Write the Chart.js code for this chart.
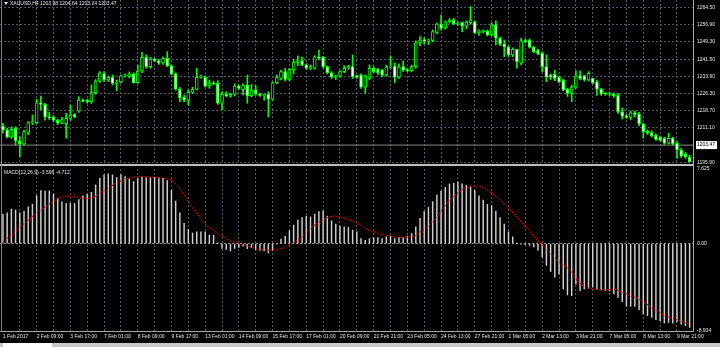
<!DOCTYPE html>
<html><head><meta charset="utf-8">
<script src="https://cdn.jsdelivr.net/npm/chart.js@4.4.0/dist/chart.umd.min.js"></script>
<style>
html,body{margin:0;padding:0;background:#000;width:720px;height:347px;overflow:hidden;}
#wrap{position:relative;width:720px;height:347px;background:#000;}
canvas{position:absolute;left:0;}
#cMain{top:0;}
#cMacd{top:166px;}
.txt{position:absolute;font-family:'Liberation Sans',Arial,sans-serif;font-size:5px;color:#e4e4e4;white-space:nowrap;line-height:5px;}
.ln{position:absolute;background:#a8a8a8;}
</style></head>
<body><div id="wrap">
<canvas id="cMain" width="720" height="164" style="width:720px;height:164px"></canvas>
<canvas id="cMacd" width="720" height="177" style="width:720px;height:177px"></canvas>
<div class="ln" style="left:0;top:164px;width:694px;height:2px;background:#bdbdbd"></div>
<div class="ln" style="left:693px;top:0;width:1px;height:332px;"></div>
<div class="ln" style="left:0;top:331px;width:694px;height:1px;"></div>
<div class="ln" style="left:1px;top:0;width:1px;height:332px;background:#808080"></div>
<div style="position:absolute;left:0;top:343px;width:720px;height:4px;background:#c8c8c8"></div>
<div style="position:absolute;left:3px;top:343px;width:49px;height:4px;background:#ffffff"></div>
<div style="position:absolute;left:4px;top:2px;width:0;height:0;border-left:2px solid transparent;border-right:2px solid transparent;border-top:3px solid #e4e4e4"></div>
<div class="txt" id="title" style="left:10px;top:1px"></div>
<div class="txt" id="macdTitle" style="left:4px;top:170px"></div>
</div>
<script>
// ---------- DATA ----------
const symbolName = 'XAUUSD,H4';
const lastBar = [1203.98, 1204.64, 1203.24, 1203.47];
const bidPrice = 1203.47;
const macdHeader = ['MACD(12,26,9)', -3.596, -4.712];

const timeLabels = ['1 Feb 2017','2 Feb 09:00','3 Feb 17:00','7 Feb 01:00','8 Feb 09:00','9 Feb 17:00',
 '13 Feb 01:00','14 Feb 09:00','15 Feb 17:00','17 Feb 01:00','20 Feb 09:00','21 Feb 21:00','23 Feb 05:00',
 '24 Feb 13:00','27 Feb 21:00','1 Mar 05:00','2 Mar 13:00','3 Mar 21:00','7 Mar 05:00','8 Mar 13:00','9 Mar 21:00'];

const priceTicks = [1264.50, 1256.90, 1249.30, 1241.50, 1233.90, 1226.30, 1218.70, 1211.10, 1203.47, 1195.90];
const macdTickValues = [7.625, 0, -8.934];
const macdTickLabels = ['7.625', '0.00', '-8.934'];

const openP = [1211.9,1210.2,1207.0,1210.9,1205.4,1204.0,1209.1,1213.4,1213.4,1222.2,
1221.5,1216.0,1216.0,1214.5,1213.2,1213.0,1215.3,1217.0,1218.5,1223.4,
1223.4,1222.6,1226.7,1231.8,1235.0,1232.3,1233.5,1230.8,1231.5,1234.1,
1233.8,1235.0,1231.1,1236.3,1242.3,1238.2,1241.6,1240.8,1239.9,1241.9,
1238.6,1235.0,1228.2,1224.6,1223.4,1226.8,1228.2,1233.5,1233.5,1229.6,
1231.1,1230.8,1222.0,1225.9,1225.2,1225.9,1229.6,1228.0,1230.0,1225.2,
1227.9,1226.1,1225.5,1225.9,1223.8,1231.1,1233.0,1236.0,1232.6,1236.7,
1240.1,1240.8,1239.0,1237.5,1237.5,1242.6,1242.3,1238.2,1235.5,1233.5,
1234.0,1236.0,1237.5,1238.2,1234.3,1234.5,1229.1,1233.0,1237.5,1237.0,
1236.7,1234.5,1238.0,1238.5,1233.5,1238.2,1236.7,1236.4,1238.2,1248.8,
1250.0,1249.5,1249.8,1253.4,1257.1,1255.2,1258.1,1258.9,1257.1,1257.7,
1256.2,1257.7,1258.1,1253.2,1253.7,1254.0,1252.2,1256.7,1250.8,1248.2,
1247.0,1243.4,1245.9,1239.7,1249.7,1250.0,1246.8,1245.6,1244.1,1238.2,
1234.5,1234.8,1233.5,1232.3,1228.2,1226.4,1229.1,1234.1,1234.1,1232.3,
1233.0,1231.5,1228.2,1226.1,1226.0,1226.1,1225.5,1218.2,1216.3,1215.8,
1217.8,1217.2,1212.8,1209.7,1209.0,1207.9,1206.9,1206.5,1204.3,1206.5,
1204.3,1201.3,1199.6,1198.0];
const highP = [1213.1,1211.0,1211.6,1211.6,1207.2,1210.0,1213.8,1216.8,1223.8,1225.2,
1222.0,1218.0,1216.5,1215.0,1215.8,1217.5,1221.2,1217.5,1224.9,1224.0,
1223.8,1230.1,1232.5,1236.0,1236.0,1234.1,1234.5,1232.3,1234.5,1235.0,
1235.9,1235.5,1238.9,1244.6,1243.4,1242.3,1242.0,1241.5,1242.6,1244.8,
1239.0,1235.5,1229.1,1225.6,1227.9,1229.1,1237.5,1234.5,1234.1,1232.3,
1231.8,1232.0,1227.1,1227.1,1226.5,1230.6,1230.1,1230.6,1234.5,1230.3,
1229.8,1226.5,1226.3,1227.1,1231.5,1234.5,1236.7,1237.5,1237.5,1241.5,
1243.0,1242.5,1239.5,1239.0,1243.0,1245.6,1242.8,1238.6,1236.0,1234.5,
1236.5,1238.6,1238.9,1243.4,1234.5,1235.0,1234.5,1239.0,1238.2,1237.5,
1237.0,1238.9,1243.0,1239.9,1239.5,1240.8,1237.5,1238.9,1249.6,1251.5,
1250.9,1250.5,1254.5,1257.5,1261.1,1258.5,1259.5,1259.6,1258.1,1258.1,
1258.5,1264.8,1258.5,1254.5,1254.5,1254.5,1257.7,1258.5,1251.3,1250.0,
1247.5,1246.5,1246.0,1250.9,1250.5,1250.5,1247.3,1246.0,1244.8,1243.4,
1235.0,1236.7,1234.0,1232.7,1228.6,1230.1,1236.4,1236.4,1234.5,1236.0,
1233.0,1232.3,1228.6,1226.8,1227.0,1226.6,1226.4,1219.9,1217.0,1218.5,
1218.5,1218.0,1213.1,1210.2,1209.8,1208.5,1207.5,1207.0,1208.7,1207.0,
1205.0,1202.0,1200.2,1199.0];
const lowP = [1208.7,1206.6,1206.5,1203.5,1198.3,1203.5,1208.0,1212.5,1213.0,1219.0,
1214.5,1214.8,1213.8,1212.6,1212.8,1206.5,1214.5,1215.5,1218.0,1222.5,
1222.0,1221.9,1226.0,1231.2,1231.6,1231.6,1230.1,1227.5,1231.0,1233.6,
1233.2,1230.8,1230.8,1235.5,1237.5,1237.5,1240.3,1239.2,1239.2,1238.2,
1234.5,1227.8,1222.7,1222.7,1221.2,1226.3,1227.9,1233.0,1229.1,1228.6,
1230.1,1221.5,1219.0,1224.9,1224.6,1225.2,1228.0,1225.7,1222.0,1224.9,
1225.5,1225.0,1223.4,1216.0,1223.4,1230.6,1232.3,1231.8,1231.8,1235.0,
1238.6,1238.5,1237.0,1236.9,1237.0,1241.2,1237.5,1235.0,1233.0,1232.5,
1233.5,1235.5,1237.0,1233.0,1233.0,1228.6,1226.4,1232.3,1235.5,1234.5,
1233.8,1234.0,1237.5,1231.1,1233.0,1236.0,1235.9,1235.9,1237.5,1247.5,
1248.2,1248.0,1249.2,1252.8,1254.4,1254.8,1257.5,1256.7,1256.5,1253.7,
1255.0,1257.0,1252.8,1252.0,1253.2,1251.8,1251.8,1247.8,1247.5,1242.6,
1242.8,1242.6,1237.5,1239.0,1248.8,1246.4,1244.3,1243.4,1236.0,1231.5,
1232.5,1232.0,1231.0,1227.5,1225.0,1222.7,1228.6,1232.3,1231.8,1231.8,
1230.6,1225.5,1225.5,1225.5,1225.3,1224.6,1217.5,1215.0,1215.3,1214.8,
1216.0,1212.0,1206.5,1208.2,1207.0,1205.5,1205.2,1203.8,1204.0,1203.5,
1197.6,1198.0,1197.6,1196.0];
const closeP = [1210.2,1207.0,1210.5,1205.4,1204.0,1209.4,1213.4,1213.9,1222.2,1221.5,
1216.0,1215.5,1214.5,1213.2,1214.8,1215.3,1216.5,1216.0,1223.4,1223.0,
1222.6,1226.7,1231.8,1235.5,1232.3,1233.5,1230.8,1231.5,1234.1,1234.5,
1235.0,1231.1,1236.3,1242.3,1238.2,1241.6,1240.8,1239.7,1241.9,1238.6,
1235.0,1228.2,1224.2,1223.4,1226.8,1228.2,1233.5,1234.0,1229.6,1231.1,
1230.6,1222.0,1225.9,1225.2,1225.9,1229.6,1228.6,1230.0,1225.2,1227.9,
1226.1,1225.5,1225.9,1223.8,1231.1,1233.5,1236.0,1232.6,1237.0,1240.1,
1240.8,1239.0,1237.5,1238.2,1242.6,1242.0,1238.2,1235.5,1233.5,1234.1,
1236.0,1237.5,1238.2,1233.8,1233.4,1229.1,1234.1,1237.5,1236.0,1235.5,
1234.5,1238.0,1238.5,1233.5,1238.0,1236.7,1236.4,1238.2,1248.8,1250.0,
1249.5,1249.8,1253.7,1257.1,1255.2,1258.1,1258.9,1257.1,1257.5,1256.2,
1258.0,1258.9,1253.2,1254.0,1254.0,1252.2,1256.7,1250.8,1248.2,1247.0,
1243.4,1245.9,1240.4,1249.7,1249.3,1246.8,1244.8,1243.8,1238.2,1233.5,
1233.5,1233.0,1231.5,1227.9,1226.4,1229.3,1234.1,1233.0,1232.3,1235.2,
1231.1,1228.2,1226.1,1226.0,1226.4,1225.3,1218.2,1216.3,1215.8,1217.8,
1216.9,1212.8,1209.4,1208.7,1207.5,1206.0,1205.7,1204.3,1206.5,1204.0,
1201.3,1198.6,1198.2,1196.1];

const macdMain = [3.0,3.15,3.53,3.43,3.15,3.32,3.77,4.04,4.9,5.41,
5.38,5.38,5.07,4.63,4.28,4.1,4.1,4.1,4.5,4.87,
5.04,5.24,6.0,6.68,7.03,7.13,7.03,6.75,7.03,6.85,
6.58,6.34,6.68,6.79,6.75,6.75,6.79,6.68,6.68,6.44,
5.48,4.35,3.15,2.06,1.44,1.09,1.2,1.2,1.2,0.85,
0.85,0.07,-0.5,-0.6,-0.76,-0.5,-0.4,-0.27,-0.51,-0.41,
-0.62,-0.69,-0.75,-0.96,-0.69,-0.07,0.45,0.75,1.3,1.89,
2.4,2.67,2.81,2.74,3.02,3.26,3.36,2.81,2.33,1.99,
1.78,1.71,1.65,1.37,1.2,0.51,0.34,0.51,0.62,0.62,
0.51,0.69,0.75,0.51,0.62,0.62,0.75,1.03,1.71,2.57,
3.26,3.7,4.29,4.97,5.38,5.76,6.1,6.17,6.28,6.1,
5.97,5.83,5.42,4.87,4.46,4.01,3.88,3.33,2.67,1.99,
1.2,0.69,0.02,-0.05,-0.1,-0.17,-0.34,-0.69,-1.37,-2.23,
-2.85,-3.43,-3.09,-4.63,-5.25,-5.32,-4.12,-4.8,-4.63,-4.56,
-4.46,-4.63,-4.7,-4.8,-4.8,-5.14,-5.49,-5.93,-6.41,-6.41,
-6.41,-6.76,-7.2,-7.37,-7.54,-7.78,-7.89,-8.13,-8.06,-8.13,
-7.99,-8.23,-8.4,-8.57];
const macdSignal = [0.1,0.5,0.9,1.3,1.7,2.05,2.4,2.75,3.1,3.45,
3.75,4.05,4.35,4.6,4.75,4.85,4.85,4.8,4.7,4.6,
4.6,4.65,4.85,5.1,5.4,5.7,5.95,6.2,6.4,6.6,
6.72,6.8,6.84,6.85,6.84,6.8,6.78,6.74,6.7,6.65,
6.45,6.1,5.6,4.95,4.3,3.7,3.1,2.5,2.0,1.6,
1.35,1.05,0.75,0.5,0.3,0.15,0.0,-0.1,-0.25,-0.4,
-0.48,-0.55,-0.62,-0.68,-0.68,-0.6,-0.5,-0.35,-0.2,0.05,
0.35,0.75,1.15,1.58,1.9,2.2,2.45,2.65,2.8,2.8,
2.74,2.6,2.45,2.3,2.1,1.85,1.55,1.35,1.2,1.05,
0.93,0.83,0.75,0.69,0.65,0.62,0.65,0.72,0.85,1.15,
1.45,1.85,2.3,2.75,3.3,3.9,4.45,4.85,5.2,5.5,
5.7,5.82,5.88,5.9,5.75,5.45,5.15,4.85,4.45,4.05,
3.6,3.15,2.7,2.2,1.8,1.35,0.75,0.3,-0.1,-0.5,
-1.0,-1.4,-1.85,-2.2,-2.5,-2.95,-3.6,-4.05,-4.4,-4.55,
-4.63,-4.68,-4.72,-4.73,-4.68,-4.63,-4.78,-5.0,-5.15,-5.35,
-5.5,-5.7,-5.95,-6.25,-6.55,-6.85,-7.1,-7.3,-7.5,-7.65,
-7.8,-7.95,-8.1,-8.25];

// ---------- STYLE / LAYOUT ----------
const FONT = "'Liberation Sans', Arial, sans-serif";
const TXT = '#e4e4e4';
const GRID = '#4f5963';
const LIME = '#00ff00';
const X_MIN = -0.7, X_MAX = 163.8;
const LABEL_EVERY = 8, GRID_EVERY = 4;
const AXIS_W = 27;

const barIdx = openP.map((_, i) => i);
const gridTicks = [];
for (let v = 0; v <= (timeLabels.length - 1) * LABEL_EVERY; v += GRID_EVERY) gridTicks.push(v);

document.getElementById('title').textContent =
  symbolName + ' ' + lastBar.map(v => v.toFixed(2)).join(' ');
document.getElementById('macdTitle').textContent =
  macdHeader[0] + ' ' + macdHeader[1].toFixed(3) + ' ' + macdHeader[2].toFixed(3);

function xScale(showLabels) {
  return {
    type: 'linear', min: X_MIN, max: X_MAX, offset: false,
    afterBuildTicks: s => { s.ticks = gridTicks.map(v => ({ value: v })); },
    afterFit: s => { s.height = showLabels ? 12 : 0; s.paddingLeft = 0; s.paddingRight = 0; },
    grid: { offset: false, drawTicks: false, lineWidth: 1,
      color: c => (c.tick && c.tick.value > 0) ? GRID : 'rgba(0,0,0,0)' },
    border: { display: false, dash: [2, 2] },
    ticks: {
      display: showLabels, autoSkip: false, maxRotation: 0, minRotation: 0,
      align: 'start', padding: 3, color: TXT, font: { family: FONT, size: 5 },
      callback: v => (v % LABEL_EVERY === 0) ? timeLabels[v / LABEL_EVERY] : ''
    }
  };
}

const common = {
  responsive: false, animation: false, events: [],
  plugins: { legend: { display: false }, tooltip: { enabled: false } },
};

new Chart(document.getElementById('cMain'), {
  type: 'bar',
  data: {
    datasets: [
      { type: 'bar', order: 1, grouped: false, barThickness: 3, minBarLength: 1,
        data: barIdx.map(i => ({ x: i, y: [openP[i], closeP[i]] })),
        backgroundColor: barIdx.map(i => closeP[i] >= openP[i] ? '#000000' : '#ffffff'),
        borderColor: LIME, borderWidth: 1, borderSkipped: false },
      { type: 'bar', order: 2, grouped: false, barThickness: 1,
        data: barIdx.map(i => ({ x: i, y: [lowP[i], highP[i]] })),
        backgroundColor: LIME, borderWidth: 0 },
      { type: 'line', order: 3,
        data: [{ x: X_MIN, y: bidPrice }, { x: X_MAX, y: bidPrice }],
        borderColor: '#8c8c8c', borderWidth: 1, pointRadius: 0 }
    ]
  },
  options: Object.assign({}, common, {
    layout: { padding: 0 },
    scales: {
      x: xScale(false),
      y: {
        type: 'linear', position: 'right', min: 1195.1, max: 1267.73,
        afterBuildTicks: s => { s.ticks = priceTicks.slice().sort((a, b) => a - b).map(v => ({ value: v })); },
        afterFit: s => { s.width = AXIS_W; s.paddingTop = 0; s.paddingBottom = 0; },
        grid: { drawTicks: false, lineWidth: 1,
          color: c => (c.tick && c.tick.value !== bidPrice) ? GRID : 'rgba(0,0,0,0)' },
        border: { display: false, dash: [2, 2] },
        ticks: {
          autoSkip: false, padding: 4, font: { family: FONT, size: 5 },
          color: c => (c.tick && c.tick.value === bidPrice) ? '#000000' : TXT,
          showLabelBackdrop: true,
          backdropColor: c => (c.tick && c.tick.value === bidPrice) ? '#ffffff' : 'rgba(0,0,0,0)',
          backdropPadding: { top: 1, bottom: 1, left: 1, right: 2 },
          callback: v => Number(v).toFixed(2)
        }
      }
    }
  })
});

new Chart(document.getElementById('cMacd'), {
  type: 'bar',
  data: {
    datasets: [
      { type: 'line', order: 1,
        data: barIdx.map(i => ({ x: i, y: macdSignal[i] })),
        borderColor: '#e00000', borderWidth: 1.2, borderDash: [1.5, 1.5], pointRadius: 0, tension: 0 },
      { type: 'bar', order: 2, grouped: false, barThickness: 0.8,
        data: barIdx.map(i => ({ x: i, y: macdMain[i] })),
        backgroundColor: '#cfcfcf', borderWidth: 0 }
    ]
  },
  options: Object.assign({}, common, {
    layout: { padding: { top: 3, left: 0, right: 0, bottom: 0 } },
    scales: {
      x: xScale(true),
      y: {
        type: 'linear', position: 'right', min: -8.934, max: 7.625,
        afterBuildTicks: s => { s.ticks = macdTickValues.slice().sort((a, b) => a - b).map(v => ({ value: v })); },
        afterFit: s => { s.width = AXIS_W; s.paddingTop = 0; s.paddingBottom = 0; },
        grid: { drawTicks: false, lineWidth: 1,
          color: c => (c.tick && c.tick.value === 0) ? '#8a8a8a' : 'rgba(0,0,0,0)' },
        border: { display: false, dash: [2, 2] },
        ticks: {
          autoSkip: false, padding: 4, color: TXT, font: { family: FONT, size: 5 },
          callback: v => macdTickLabels[macdTickValues.indexOf(v)]
        }
      }
    }
  })
});
</script>
</body></html>
